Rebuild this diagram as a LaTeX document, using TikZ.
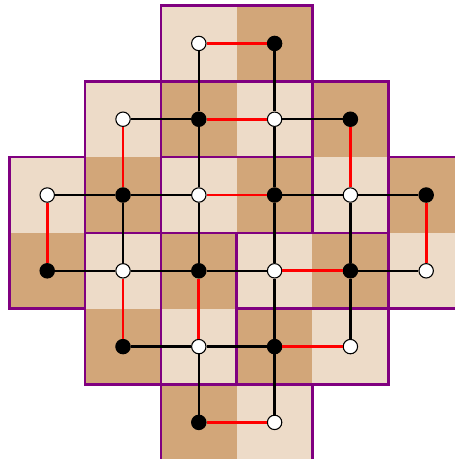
\documentclass[tikz,border=0pt]{standalone}
\usepackage{tikz}
\definecolor{SqLight}{RGB}{237,219,200}
\definecolor{SqDark}{RGB}{210,166,121}
\definecolor{TilePurple}{RGB}{128,0,128}
\definecolor{MatchRed}{RGB}{255,0,0}

\begin{document}
\begin{tikzpicture}[
    x=1cm, y=1cm,
    domino/.style={draw=TilePurple, line width=1pt},
    vtx/.style={circle, draw=black, line width=0.4pt, inner sep=0pt, minimum size=0.19cm},
    link/.style={draw=black, line width=0.85pt},
    match/.style={draw=MatchRed, line width=1pt}
  ]
    \useasboundingbox (-0.123,-5.983) rectangle (5.880,0.073);

    % Squares of the board and their centres
    \foreach \r/\a/\b in {0/2/3, 1/1/4, 2/0/5, 3/0/5, 4/1/4, 5/2/3}{
      \foreach \c in {\a,...,\b}{
        \pgfmathtruncatemacro\s{mod(\r+\c,2)}
        \ifnum\s=0 \def\sqc{SqLight}\def\dotc{white}\else \def\sqc{SqDark}\def\dotc{black}\fi
        \fill[\sqc] (\c,-\r) rectangle ++(1,-1);
        \node[vtx, fill=\dotc] (v-\r-\c) at (\c+0.5,-\r-0.5) {};
      }
    }

    % Dominoes
    \foreach \ra/\ca/\rb/\cb in {0/2/0/3, 1/1/2/1, 1/2/1/3, 1/4/2/4, 2/0/3/0, 2/2/2/3,
                                 2/5/3/5, 3/1/4/1, 3/2/4/2, 3/3/3/4, 4/3/4/4, 5/2/5/3}
      \draw[domino] (\ca,-\ra) rectangle (\cb+1,-\rb-1);

    % Dual graph: horizontal neighbours
    \foreach \r/\a/\b in {0/2/2, 1/1/3, 2/0/4, 3/0/4, 4/1/3, 5/2/2}{
      \foreach \c in {\a,...,\b}{
        \pgfmathtruncatemacro\n{\c+1}
        \draw[link] (v-\r-\c) -- (v-\r-\n);
      }
    }
    % Dual graph: vertical neighbours
    \foreach \r/\a/\b in {0/2/3, 1/1/4, 2/0/5, 3/1/4, 4/2/3}{
      \foreach \c in {\a,...,\b}{
        \pgfmathtruncatemacro\n{\r+1}
        \draw[link] (v-\r-\c) -- (v-\n-\c);
      }
    }

    % Perfect matching
    \foreach \ra/\ca/\rb/\cb in {0/2/0/3, 1/1/2/1, 1/2/1/3, 1/4/2/4, 2/0/3/0, 2/2/2/3,
                                 2/5/3/5, 3/1/4/1, 3/2/4/2, 3/3/3/4, 4/3/4/4, 5/2/5/3}
      \draw[match] (v-\ra-\ca) -- (v-\rb-\cb);
  \end{tikzpicture}
\end{document}
